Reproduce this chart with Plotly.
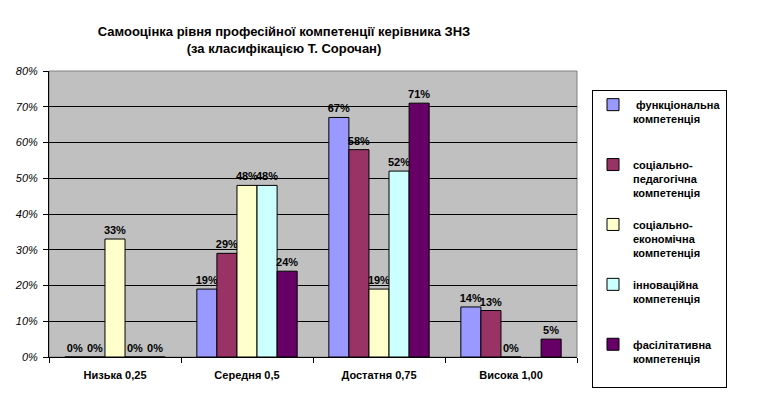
import plotly.graph_objects as go

categories = ["Низька 0,25", "Середня 0,5", "Достатня 0,75", "Висока 1,00"]
series_names = [
    " функціональна<br>компетенція",
    "соціально-<br>педагогічна<br>компетенція",
    "соціально-<br>економічна<br>компетенція",
    "інноваційна<br>компетенція",
    "фасілітативна<br>компетенція",
]
functional = [0, 19, 67, 14]
soc_pedagogical = [0, 29, 58, 13]
soc_economic = [33, 48, 19, 0]
innovative = [0, 48, 52, None]
facilitative = [0, 24, 71, 5]
y_ticks = [0, 10, 20, 30, 40, 50, 60, 70, 80]
y_tick_labels = [f"{v}%" for v in y_ticks]

series_values = [functional, soc_pedagogical, soc_economic, innovative, facilitative]
colors = ["#9999FF", "#993366", "#FFFFCC", "#CCFFFF", "#660066"]

FONT = "Liberation Sans, Arial, sans-serif"

# page body has an 8px margin; work in page pixels and subtract it
OFF = 8
PW, PH = 769, 393
W, H = PW - OFF, PH - OFF
L, R, T, B = 49 - OFF, 577 - OFF, 71 - OFF, 357 - OFF

fig = go.Figure()
for i, (name, vals, col) in enumerate(zip(series_names, series_values, colors)):
    nlines = name.count("<br>") + 1
    legend_name = name + "<br> " * (3 - nlines)
    fig.add_trace(go.Bar(
        x=categories, y=vals, name=legend_name,
        marker=dict(color=col, line=dict(color="black", width=1)),
        text=["" if v is None else f"{v}%" for v in vals],
        textposition="outside",
        constraintext="none",
        textfont=dict(family=FONT, size=11, color="black", weight="bold"),
        cliponaxis=False,
        legendgroup=f"g{i}",
    ))

fig.update_layout(
    width=W, height=H,
    margin=dict(l=L, r=W - R, t=T, b=H - B, autoexpand=False),
    paper_bgcolor="white",
    plot_bgcolor="#C0C0C0",
    barmode="group",
    bargap=0.24,
    bargroupgap=0,
    showlegend=True,
    title=dict(
        text="Самооцінка рівня професійної компетенції керівника ЗНЗ<br>(за класифікацією Т. Сорочан)",
        x=(284 - OFF) / W, xanchor="center", xref="container",
        y=1 - (36 - OFF) / H, yanchor="middle", yref="container",
        pad=dict(t=0, b=0, l=0, r=0),
        font=dict(family=FONT, size=13, color="black", weight="bold"),
    ),
    legend=dict(
        x=(592 - OFF - L) / (R - L), xanchor="left",
        y=1 - (90 - OFF - T) / (B - T), yanchor="top",
        bgcolor="white", bordercolor="black", borderwidth=1,
        font=dict(family=FONT, size=11, color="black", weight="bold"),
        valign="top", traceorder="grouped", tracegroupgap=14,
        itemwidth=30, maxheight=380,
    ),
)

fig.update_xaxes(
    showline=True, linecolor="black", linewidth=1,
    ticks="outside", ticklen=5, tickcolor="black", tickson="boundaries",
    tickfont=dict(family=FONT, size=11, color="black", weight="bold"),
    ticklabelstandoff=8,
    showgrid=False,
)
fig.update_yaxes(
    range=[0, 80], tickvals=y_ticks, ticktext=y_tick_labels,
    showline=True, linecolor="black", linewidth=1,
    ticks="outside", ticklen=5, tickcolor="black",
    tickfont=dict(family=FONT, size=11, color="black", style="italic"),
    ticklabelstandoff=3,
    showgrid=True, gridcolor="black", gridwidth=1,
    zeroline=False,
)

fig.add_shape(type="rect", xref="paper", yref="paper", x0=0, x1=1, y0=0, y1=1,
              line=dict(color="#808080", width=1), fillcolor="rgba(0,0,0,0)", layer="below")

fig.write_html("out.html")
